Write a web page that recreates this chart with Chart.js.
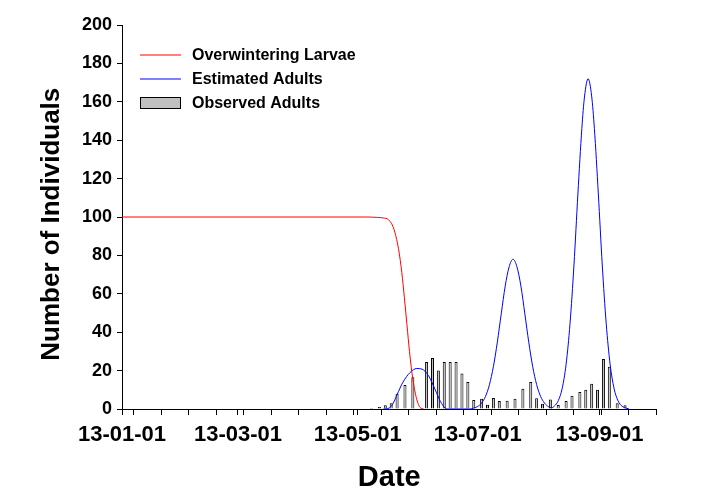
<!DOCTYPE html>
<html>
<head>
<meta charset="utf-8">
<script src="https://cdn.jsdelivr.net/npm/chart.js@4.4.1/dist/chart.umd.min.js"></script>
<style>
  html, body { margin: 0; padding: 0; background: #fff; }
</style>
</head>
<body>
<canvas id="myChart" width="702" height="499"></canvas>
<script>
// x values are days counted from 13-01-01 (= day 0)
const larvaeDays = [0, 124, 130, 133, 135.6, 138.2, 140.7, 142.4, 143.7, 145, 146.3, 148, 150, 151.7, 153.5];
const larvaeValues = [100, 100, 99.8, 99.5, 98.6, 94.2, 83.5, 71, 58, 44, 30, 15.5, 5, 0.8, 0];

const adultDays = [
    133, 136, 138, 140, 143, 146.6, 150, 152.6, 156, 159.4, 162, 164.4, 166,
    177, 179, 181, 183, 185, 187, 189, 191, 193, 195, 197, 199, 201, 203, 205, 207, 209, 211, 213, 215, 217, 218.5,
    220, 222, 224, 226, 228, 230, 232, 234, 235.4, 237.2, 239, 240.4, 242.4, 244.4, 246.4, 248.4, 250.4, 252.4, 254.4, 256.4, 258
];
const adultValues = [
    0, 0.5, 3, 7.5, 14, 19, 21.1, 20.8, 17.3, 10, 4, 0.5, 0,
    0, 0.5, 1.3, 3.1, 6.6, 12.7, 22.1, 34.8, 49.6, 64, 74, 78, 74, 64, 49.6, 34.8, 22.1, 12.7, 6.6, 3.1, 1.2, 0.6,
    1.5, 4.3, 10.7, 23.3, 44.6, 75, 112, 146, 163, 172, 163, 146, 112, 75, 44.6, 23.3, 10.7, 4.3, 1.5, 0.5, 0
];

const observedDays = [
    127, 131, 134, 137, 140, 144, 148, 155, 158, 161, 164, 167, 170, 173, 176, 179,
    183, 186, 189, 192, 196, 200, 204, 208, 211, 214, 218, 222, 226, 229, 233, 236,
    239, 242, 245, 248, 252, 256
];
const observedValues = [
    0.5, 1, 2, 3, 8, 12.5, 16.5, 24.5, 26.5, 20, 24.5, 24.5, 24.5, 18.5, 14, 4.7,
    5.3, 2.2, 5.7, 4.2, 4.3, 5.4, 10.5, 14, 5.6, 2.7, 5, 2.1, 4.2, 6.9, 8.9, 10,
    13.1, 10, 26, 22, 3, 2
];

const majorTickDays = [0, 59, 120, 181, 243];
const majorTickLabels = ['13-01-01', '13-03-01', '13-05-01', '13-07-01', '13-09-01'];
const minorTickDays = [6, 20, 34, 48, 62, 76, 90, 104, 118, 132, 146, 160, 174, 188, 202, 216, 230, 244, 258, 272];

const seriesLabels = ['Overwintering Larvae', 'Estimated Adults', 'Observed Adults'];
const seriesColors = ['#ff0000', '#0000ff', '#c0c0c0'];

const toPoints = (xs, ys) => xs.map((x, i) => ({ x: x, y: ys[i] }));

const FONT = "'Liberation Sans', Arial, sans-serif";

// legend drawn inside the plot, top-left
const insideLegend = {
    id: 'insideLegend',
    afterDraw(chart) {
        const ctx = chart.ctx;
        const area = chart.chartArea;
        const x0 = Math.round(area.left + 18);
        const rows = [area.top + 29.5, area.top + 54, area.top + 78];
        ctx.save();
        ctx.font = 'bold 16px ' + FONT;
        ctx.textBaseline = 'middle';
        seriesLabels.forEach((label, i) => {
            const y = Math.round(rows[i]);
            if (i === 2) {
                ctx.fillStyle = '#000000';
                ctx.fillRect(x0, y - 6, 41, 12);
                ctx.fillStyle = seriesColors[i];
                ctx.fillRect(x0 + 1, y - 5, 39, 10);
            } else {
                ctx.strokeStyle = seriesColors[i];
                ctx.lineWidth = 1.2;
                ctx.beginPath();
                ctx.moveTo(x0, y);
                ctx.lineTo(x0 + 41, y);
                ctx.stroke();
            }
            ctx.fillStyle = '#000000';
            ctx.fillText(label, x0 + 52, y + 1);
        });
        ctx.restore();
    }
};

new Chart(document.getElementById('myChart'), {
    type: 'line',
    data: {
        datasets: [{
            type: 'line',
            label: seriesLabels[0],
            data: toPoints(larvaeDays, larvaeValues),
            borderColor: seriesColors[0],
            borderWidth: 1,
            pointRadius: 0,
            fill: false,
            cubicInterpolationMode: 'monotone',
            order: 1
        }, {
            type: 'line',
            label: seriesLabels[1],
            data: toPoints(adultDays, adultValues),
            borderColor: seriesColors[1],
            borderWidth: 1,
            pointRadius: 0,
            fill: false,
            cubicInterpolationMode: 'monotone',
            order: 2
        }, {
            type: 'bar',
            label: seriesLabels[2],
            data: toPoints(observedDays, observedValues),
            backgroundColor: seriesColors[2],
            borderColor: '#000000',
            borderWidth: 1,
            barThickness: 3,
            inflateAmount: 0,
            order: 3
        }]
    },
    options: {
        responsive: false,
        animation: false,
        devicePixelRatio: 1,
        layout: { padding: { top: 25, right: 45.5, left: 0, bottom: 0 } },
        plugins: {
            legend: { display: false },
            tooltip: { enabled: false }
        },
        scales: {
            x: {
                type: 'linear',
                min: 0,
                max: 272,
                offset: false,
                z: 1,
                afterFit: (scale) => { scale.height = 90; },
                afterBuildTicks: (scale) => {
                    scale.ticks = majorTickDays.concat(minorTickDays)
                        .sort((a, b) => a - b)
                        .map(v => ({ value: v }));
                },
                border: { display: true, color: '#000', width: 1 },
                grid: { drawOnChartArea: false, offset: false, color: '#000', tickLength: 6 },
                ticks: {
                    autoSkip: false,
                    maxRotation: 0,
                    padding: 7,
                    color: '#000',
                    font: { family: FONT, size: 22, weight: 'bold' },
                    callback: (value) => {
                        const k = majorTickDays.indexOf(value);
                        return k >= 0 ? majorTickLabels[k] : '';
                    }
                },
                title: {
                    display: true,
                    text: 'Date',
                    color: '#000',
                    font: { family: FONT, size: 29, weight: 'bold' },
                    padding: { top: 0, bottom: 4 }
                }
            },
            y: {
                min: 0,
                max: 200,
                z: 1,
                afterFit: (scale) => { scale.width = 122; },
                border: { display: true, color: '#000', width: 1 },
                grid: { drawOnChartArea: false, color: '#000', tickLength: 5 },
                ticks: {
                    stepSize: 20,
                    padding: 5,
                    color: '#000',
                    font: { family: FONT, size: 18, weight: 'bold' }
                },
                title: {
                    display: true,
                    text: 'Number of Individuals  ',
                    color: '#000',
                    font: { family: FONT, size: 26, weight: 'bold' },
                    padding: { top: 36, bottom: 0 }
                }
            }
        }
    },
    plugins: [insideLegend]
});
</script>
</body>
</html>
